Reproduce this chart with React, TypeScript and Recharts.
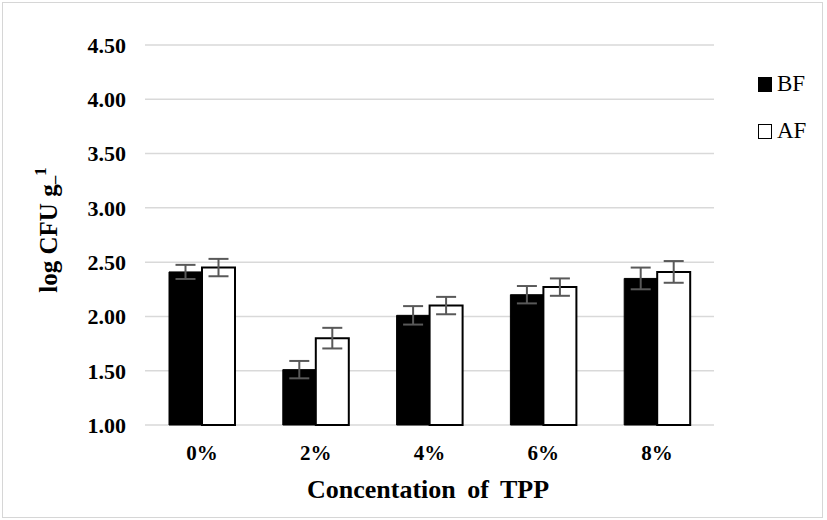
import React from 'react';
import { BarChart, Bar, XAxis, YAxis, CartesianGrid, ErrorBar, Legend } from 'recharts';

const categories = ['0%', '2%', '4%', '6%', '8%'];
const bfValues = [2.41, 1.51, 2.01, 2.2, 2.35];
const bfErrors = [0.065, 0.08, 0.085, 0.08, 0.1];
const afValues = [2.45, 1.8, 2.1, 2.27, 2.41];
const afErrors = [0.08, 0.095, 0.08, 0.08, 0.1];
const yTicks = [1.0, 1.5, 2.0, 2.5, 3.0, 3.5, 4.0, 4.5];

const data = categories.map((c, i) => ({
  name: c,
  BF: bfValues[i],
  bfErr: bfErrors[i],
  AF: afValues[i],
  afErr: afErrors[i],
}));

const serif = 'Liberation Serif';

const YLabel = () => (
  <text
    x={48}
    y={230}
    transform="rotate(-90 48 230)"
    textAnchor="middle"
    dominantBaseline="central"
    fontFamily={serif}
    fontWeight="bold"
    fontSize={25}
    fill="#000"
  >
    log CFU g
    <tspan dy={6} fontSize={17}>–</tspan>
    <tspan dy={-14} fontSize={17}>1</tspan>
  </text>
);

const XLabel = () => (
  <text
    x={428}
    y={489}
    textAnchor="middle"
    dominantBaseline="central"
    fontFamily={serif}
    fontWeight="bold"
    fontSize={26}
    wordSpacing={5}
    fill="#000"
  >
    Concentation of TPP
  </text>
);

const LegendContent = () => (
  <div style={{ fontFamily: serif, fontSize: 23, color: '#000' }}>
    <div style={{ display: 'flex', alignItems: 'center', height: 26 }}>
      <span style={{ display: 'inline-block', width: 14, height: 15, background: '#000', marginRight: 5 }} />
      <span>BF</span>
    </div>
    <div style={{ display: 'flex', alignItems: 'center', height: 26, marginTop: 21 }}>
      <span style={{ display: 'inline-block', width: 12, height: 13, background: '#fff', border: '1.5px solid #000', marginRight: 5 }} />
      <span>AF</span>
    </div>
  </div>
);

export default function App() {
  return (
    <div style={{ position: 'absolute', left: 0, top: 0, width: 827, height: 520, background: '#fff', fontFamily: serif }}>
      <div style={{ position: 'absolute', left: 2, top: 2, width: 819, height: 514, border: '1.5px solid #d6d6d6' }} />
      <BarChart
        width={827}
        height={520}
        data={data}
        margin={{ top: 45, right: 113, left: 65, bottom: 35 }}
        barGap={0}
        barSize={33}
        style={{ fontFamily: serif }}
      >
        <CartesianGrid vertical={false} stroke="#d9d9d9" strokeWidth={1.5} />
        <XAxis
          dataKey="name"
          height={60}
          axisLine={false}
          tickLine={false}
          tickSize={0}
          tickMargin={20}
          tick={{ fontFamily: serif, fontWeight: 'bold', fill: '#000', fontSize: 21 }}
          label={<XLabel />}
        />
        <YAxis
          width={80}
          domain={[1, 4.5]}
          ticks={yTicks}
          axisLine={false}
          tickLine={false}
          tickSize={0}
          tickMargin={19}
          tickFormatter={(v: number) => v.toFixed(2)}
          tick={{ fontFamily: serif, fontWeight: 'bold', fill: '#000', fontSize: 22 }}
          label={<YLabel />}
        />
        <Legend
          layout="horizontal"
          align="center"
          verticalAlign="middle"
          content={<LegendContent />}
          wrapperStyle={{ position: 'absolute', left: 758, top: 71, width: 70 }}
        />
        <Bar dataKey="BF" fill="#000" stroke="#000" strokeWidth={1} isAnimationActive={false}>
          <ErrorBar dataKey="bfErr" width={10} stroke="#595959" strokeWidth={2} isAnimationActive={false} />
        </Bar>
        <Bar dataKey="AF" fill="#fff" stroke="#000" strokeWidth={2} isAnimationActive={false}>
          <ErrorBar dataKey="afErr" width={10} stroke="#595959" strokeWidth={2} isAnimationActive={false} />
        </Bar>
      </BarChart>
    </div>
  );
}
